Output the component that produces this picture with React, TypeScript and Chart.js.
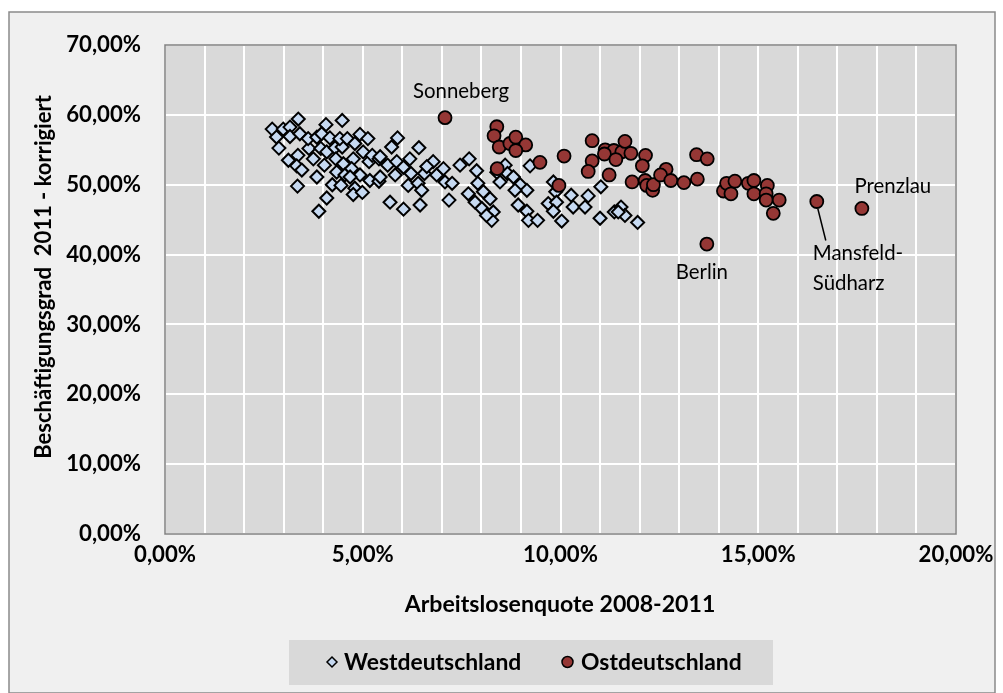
import React, { useEffect, useRef } from 'react';
import { Chart, registerables } from 'chart.js';
Chart.register(...registerables);

// Arbeitslosenquote 2008-2011 (%) / Beschäftigungsgrad 2011 korrigiert (%)
const westX = [
  2.71, 2.82, 2.88, 2.99, 3.16, 3.37, 3.16, 3.41, 3.12, 3.36, 3.33, 3.46, 3.64, 3.62, 3.84, 3.75, 3.84, 3.35, 4.07, 3.96,
  3.94, 4.17, 4.09, 4.03, 4.30, 4.32, 4.48, 4.48, 4.42, 4.61, 4.80, 4.93, 5.13, 5.01, 4.76, 4.51, 4.34, 4.55, 4.72, 4.93,
  5.16, 5.24, 5.41, 5.18, 5.41, 4.23, 4.45, 4.80, 4.76, 4.99, 4.09, 3.89, 4.68,
  5.88, 5.73, 6.42, 5.44, 5.63, 5.44, 5.86, 5.82, 6.03, 6.19, 6.22, 6.15, 6.40, 6.49, 6.56, 6.78, 6.87, 7.04, 7.08, 7.26,
  5.69, 6.03, 6.45, 7.18, 7.46, 7.69, 7.88, 7.91, 8.05, 7.67, 7.84, 8.01, 8.22, 8.30, 8.26, 8.13, 8.47, 8.39, 6.62,
  8.60, 9.23, 8.66, 8.81, 8.98, 9.15, 8.85, 8.93, 9.15, 9.19, 9.42, 9.82, 9.88, 9.69, 9.90, 9.82, 10.03, 10.27, 10.32,
  10.62, 10.70, 11.02, 11.00, 11.36, 11.53, 11.63, 11.95, 11.46,
];
const westY = [
  57.96, 56.82, 55.24, 57.96, 58.25, 59.4, 56.9, 57.3, 53.5, 54.2, 52.7, 52.1, 55.2, 56.6, 56.8, 53.7, 51.1, 49.8, 58.6, 57.3,
  55.2, 56.7, 54.7, 52.8, 55.3, 53.7, 59.2, 55.4, 56.6, 56.6, 55.9, 57.2, 56.6, 54.7, 53.7, 53.0, 51.8, 51.4, 52.3, 51.4,
  53.3, 54.2, 53.7, 50.6, 50.5, 50.0, 49.9, 49.5, 48.6, 48.9, 48.1, 46.2, 51.1,
  56.7, 55.4, 55.3, 54.0, 52.8, 51.1, 53.3, 51.4, 52.5, 53.7, 51.6, 49.9, 50.2, 49.2, 51.6, 53.3, 51.4, 52.3, 50.4, 50.2,
  47.5, 46.5, 47.1, 47.8, 52.8, 53.7, 52.0, 50.2, 49.0, 48.7, 47.5, 46.6, 48.0, 46.1, 44.9, 45.6, 50.4, 51.8, 52.6,
  52.8, 52.7, 51.6, 51.1, 50.0, 49.2, 49.2, 47.1, 46.2, 44.9, 44.9, 50.4, 49.0, 47.3, 47.5, 46.2, 44.8, 48.5, 46.8,
  46.8, 48.4, 49.7, 45.2, 46.1, 46.8, 45.6, 44.6, 46.1,
];
const eastX = [
  7.08, 8.39, 8.32, 8.45, 8.72, 8.87, 9.12, 8.87, 9.48, 10.09, 8.40, 9.96, 10.80, 11.13, 11.35, 11.55, 11.63, 11.78, 11.11, 11.40,
  10.80, 10.70, 11.23, 11.81, 12.15, 12.07, 12.14, 12.18, 12.33, 12.35, 12.67, 12.53, 12.79, 13.12, 13.46, 13.44, 13.71, 14.12, 14.20, 14.41,
  14.31, 14.75, 14.89, 14.89, 15.23, 15.20, 15.20, 15.53, 15.38, 16.48, 17.62, 13.70,
];
const eastY = [
  59.6, 58.3, 57.0, 55.4, 55.9, 56.8, 55.7, 54.9, 53.2, 54.1, 52.3, 49.9, 56.3, 55.0, 54.9, 54.7, 56.2, 54.5, 54.4, 53.6,
  53.4, 51.9, 51.4, 50.4, 54.2, 52.7, 50.6, 49.9, 49.2, 50.0, 52.2, 51.4, 50.6, 50.3, 50.8, 54.3, 53.7, 49.1, 50.2, 50.5,
  48.7, 50.2, 50.6, 48.7, 49.9, 48.7, 47.8, 47.8, 45.9, 47.6, 46.6, 41.5,
];
// labelled East-German districts (index into east arrays)
const labelNames = ['Sonneberg', 'Berlin', 'Mansfeld-\nSüdharz', 'Prenzlau'];
const labelIndex = [0, 51, 49, 50];

const seriesNames = ['Westdeutschland', 'Ostdeutschland'];
const xTitle = 'Arbeitslosenquote 2008-2011';
const yTitle = 'Beschäftigungsgrad  2011 - korrigiert';
const xRange = [0, 20];
const yRange = [0, 70];

const FAMILY = 'Lato, "Noto Sans", sans-serif';
const fmt = (v: number) => v.toFixed(2).replace('.', ',') + '%';

function fitSize(text: string, weight: string, target: number) {
  const c = document.createElement('canvas').getContext('2d')!;
  c.font = `${weight} 100px ${FAMILY}`;
  const w = c.measureText(text).width;
  return Math.round((target / w) * 100 * 10) / 10;
}

export default function App() {
  const ref = useRef<HTMLCanvasElement>(null);
  useEffect(() => {
    const tickSize = fitSize('70,00%', 'bold', 75);
    const titleSize = fitSize(xTitle, 'bold', 310);
    const yTitleSize = fitSize(yTitle, 'bold', 363);
    const legendSize = fitSize(seriesNames[0], 'bold', 177);
    const labelSize = fitSize('Sonneberg', 'normal', 96);

    const WEST_FILL = '#c6d9f1';
    const EAST_FILL = '#953735';

    const decor = {
      id: 'decor',
      beforeDraw(chart: any) {
        const { ctx, chartArea: a } = chart;
        ctx.save();
        ctx.fillStyle = '#ffffff';
        ctx.fillRect(0, 0, chart.width, chart.height);
        ctx.fillStyle = '#f0f0f0';
        ctx.fillRect(9, 12, 986, 681);
        ctx.strokeStyle = '#8a8a8a';
        ctx.lineWidth = 1.5;
        ctx.strokeRect(9, 12, 986, 681);
        ctx.fillStyle = '#d9d9d9';
        ctx.fillRect(a.left, a.top, a.right - a.left, a.bottom - a.top);
        ctx.restore();
      },
      afterDatasetsDraw(chart: any) {
        const { ctx, chartArea: a, scales } = chart;
        ctx.save();
        ctx.strokeStyle = '#7f7f7f';
        ctx.lineWidth = 1.5;
        ctx.strokeRect(a.left, a.top, a.right - a.left, a.bottom - a.top);
        // point labels
        ctx.fillStyle = '#000';
        ctx.font = `normal ${labelSize}px ${FAMILY}`;
        ctx.textBaseline = 'middle';
        const pos = (i: number) => ({
          x: scales.x.getPixelForValue(eastX[labelIndex[i]]),
          y: scales.y.getPixelForValue(eastY[labelIndex[i]]),
        });
        // Sonneberg
        let p = pos(0);
        ctx.textAlign = 'center';
        ctx.fillText(labelNames[0], p.x + 16, p.y - 26);
        // Berlin
        p = pos(1);
        ctx.fillText(labelNames[1], p.x - 5, p.y + 28);
        // Mansfeld-Südharz
        p = pos(2);
        ctx.strokeStyle = '#000';
        ctx.lineWidth = 1.5;
        ctx.beginPath();
        ctx.moveTo(p.x + 1, p.y + 7);
        ctx.lineTo(p.x + 9, p.y + 39);
        ctx.stroke();
        ctx.textAlign = 'left';
        const lines = labelNames[2].split('\n');
        ctx.fillText(lines[0], p.x - 4, p.y + 52);
        ctx.fillText(lines[1], p.x - 4, p.y + 82);
        // Prenzlau
        p = pos(3);
        ctx.textAlign = 'center';
        ctx.fillText(labelNames[3], p.x + 31, p.y - 22);
        ctx.restore();
      },
      afterDraw(chart: any) {
        const { ctx, chartArea: a } = chart;
        ctx.save();
        ctx.fillStyle = '#000';
        // x title
        ctx.font = `bold ${titleSize}px ${FAMILY}`;
        ctx.textAlign = 'center';
        ctx.textBaseline = 'middle';
        ctx.fillText(xTitle, 560, 605);
        // y title
        ctx.save();
        ctx.translate(44, 277);
        ctx.rotate(-Math.PI / 2);
        ctx.font = `bold ${yTitleSize}px ${FAMILY}`;
        ctx.fillText(yTitle, 0, 0);
        ctx.restore();
        // legend
        ctx.fillStyle = '#d9d9d9';
        ctx.fillRect(289, 640, 484, 45);
        // west marker
        ctx.beginPath();
        ctx.moveTo(332 - 5, 662);
        ctx.lineTo(332, 657);
        ctx.lineTo(332 + 5, 662);
        ctx.lineTo(332, 667);
        ctx.closePath();
        ctx.fillStyle = WEST_FILL;
        ctx.fill();
        ctx.strokeStyle = '#000';
        ctx.lineWidth = 1.5;
        ctx.stroke();
        // east marker
        ctx.beginPath();
        ctx.arc(567.5, 662, 5.5, 0, Math.PI * 2);
        ctx.fillStyle = EAST_FILL;
        ctx.fill();
        ctx.stroke();
        ctx.fillStyle = '#000';
        ctx.font = `bold ${legendSize}px ${FAMILY}`;
        ctx.textAlign = 'left';
        ctx.fillText(seriesNames[0], 344, 663);
        ctx.fillText(seriesNames[1], 581, 663);
        ctx.restore();
      },
    };

    const chart = new Chart(ref.current!, {
      type: 'scatter',
      data: {
        datasets: [
          {
            label: seriesNames[0],
            data: westX.map((x, i) => ({ x, y: westY[i] })),
            pointStyle: 'rectRot',
            pointRadius: 6.5,
            pointBackgroundColor: WEST_FILL,
            pointBorderColor: '#000',
            pointBorderWidth: 2,
            order: 2,
          },
          {
            label: seriesNames[1],
            data: eastX.map((x, i) => ({ x, y: eastY[i] })),
            pointStyle: 'circle',
            pointRadius: 6.5,
            pointBackgroundColor: EAST_FILL,
            pointBorderColor: '#000',
            pointBorderWidth: 1.8,
            order: 1,
          },
        ],
      },
      options: {
        responsive: false,
        animation: false,
        events: [],
        layout: { padding: { left: 0, top: 45, right: 47, bottom: 119 } },
        plugins: { legend: { display: false }, tooltip: { enabled: false } },
        scales: {
          x: {
            type: 'linear',
            min: xRange[0],
            max: xRange[1],
            afterFit: (s: any) => { s.height = 40; },
            ticks: {
              stepSize: 1,
              autoSkip: false,
              maxRotation: 0,
              padding: 8,
              color: '#000',
              font: { family: FAMILY, size: tickSize, weight: 'bold' },
              callback: (v: any) => (Number(v) % 5 === 0 ? fmt(Number(v)) : ''),
            },
            grid: { color: '#ffffff', lineWidth: 2, drawTicks: false },
            border: { display: false },
          },
          y: {
            type: 'linear',
            min: yRange[0],
            max: yRange[1],
            afterFit: (s: any) => { s.width = 165; },
            ticks: {
              stepSize: 10,
              padding: 24,
              color: '#000',
              font: { family: FAMILY, size: tickSize, weight: 'bold' },
              callback: (v: any) => fmt(Number(v)),
            },
            grid: { color: '#ffffff', lineWidth: 2, drawTicks: false },
            border: { display: false },
          },
        },
      },
      plugins: [decor],
    } as any);
    return () => chart.destroy();
  }, []);

  return (
    <div style={{ position: 'absolute', left: 0, top: 0, width: 1003, height: 693 }}>
      <canvas ref={ref} width={1003} height={693} style={{ display: 'block' }} />
    </div>
  );
}
